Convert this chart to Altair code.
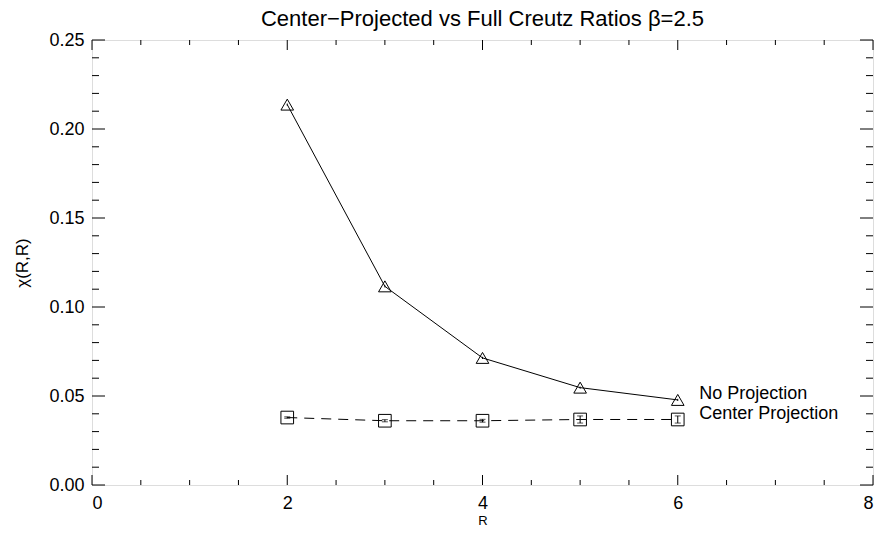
import altair as alt
import pandas as pd

R = [2, 3, 4, 5, 6]
no_proj = [0.2137, 0.1116, 0.0714, 0.0547, 0.0478]
no_proj_err = [0.0006, 0.0006, 0.0006, 0.0006, 0.0006]
center_proj = [0.0379, 0.0361, 0.0361, 0.0368, 0.0368]
center_err = [0.0004, 0.0006, 0.0008, 0.0020, 0.0020]

label_names = ["No Projection", "Center Projection"]
label_x = [6.22, 6.22]
label_y = [0.0510, 0.0400]

x_major = [0, 2, 4, 6, 8]
x_minor = [0.5, 1, 1.5, 2.5, 3, 3.5, 4.5, 5, 5.5, 6.5, 7, 7.5]
y_major = [0.0, 0.05, 0.10, 0.15, 0.20, 0.25]
y_minor = [0.01, 0.02, 0.03, 0.04, 0.06, 0.07, 0.08, 0.09, 0.11, 0.12, 0.13, 0.14,
           0.16, 0.17, 0.18, 0.19, 0.21, 0.22, 0.23, 0.24]

W, H = 781, 445
FONT = "Liberation Sans"
YT = "χ(R,R)"

xs = alt.Scale(domain=[0, 8], nice=False, zero=False)
ys = alt.Scale(domain=[0, 0.25], nice=False, zero=False)

df_no = pd.DataFrame({"R": R, "v": no_proj, "lo": [a - b for a, b in zip(no_proj, no_proj_err)],
                      "hi": [a + b for a, b in zip(no_proj, no_proj_err)]})
df_c = pd.DataFrame({"R": R, "v": center_proj, "lo": [a - b for a, b in zip(center_proj, center_err)],
                     "hi": [a + b for a, b in zip(center_proj, center_err)]})
df_lab = pd.DataFrame({"name": label_names, "x": label_x, "y": label_y})

X = alt.X("R:Q", scale=xs, axis=alt.Axis(title="R", values=x_major, format="d", ticks=False,
                                          domain=False, grid=False, labelFontSize=18, labelPadding=9,
                                          titleFontSize=13, titleFontWeight="normal", titlePadding=2,
                                          labelFont=FONT, titleFont=FONT, labelColor="black", titleColor="black"))
Y = alt.Y("v:Q", scale=ys, title=YT, axis=alt.Axis(title=YT, values=y_major, format=".2f", ticks=False,
                                          domain=False, grid=False, labelFontSize=18, labelPadding=8,
                                          titleFontSize=17, titleFontWeight="normal", titlePadding=17,
                                          labelFont=FONT, titleFont=FONT, labelColor="black", titleColor="black"))

line_no = alt.Chart(df_no).mark_line(color="black", strokeWidth=1).encode(x=X, y=Y)
pts_no = alt.Chart(df_no).mark_point(shape="triangle-up", filled=False, color="black", size=160,
                                     strokeWidth=1, opacity=1).encode(x="R:Q", y=alt.Y("v:Q", title=YT))
err_no = alt.Chart(df_no).mark_rule(color="black").encode(x="R:Q", y=alt.Y("lo:Q", title=YT), y2="hi:Q")

line_c = alt.Chart(df_c).mark_line(color="black", strokeWidth=1, strokeDash=[10, 7]).encode(
    x="R:Q", y=alt.Y("v:Q", title=YT))
pts_c = alt.Chart(df_c).mark_point(shape="square", filled=False, color="black", size=160,
                                   strokeWidth=1, opacity=1).encode(x="R:Q", y=alt.Y("v:Q", title=YT))
err_c = alt.Chart(df_c).mark_errorbar(ticks=alt.MarkConfig(size=6, color="black"), color="black").encode(
    x="R:Q", y=alt.Y("lo:Q", title=YT), y2="hi:Q")

labels = alt.Chart(df_lab).mark_text(align="left", baseline="middle", fontSize=18, font=FONT,
                                      color="black").encode(x="x:Q", y=alt.Y("y:Q", title=YT), text="name:N")

def xticks(vals, length):
    d = pd.DataFrame({"t": vals})
    b = alt.Chart(d).mark_rule(color="black").encode(x=alt.X("t:Q", title="R"), y=alt.value(H), y2=alt.value(H - length))
    t = alt.Chart(d).mark_rule(color="black").encode(x=alt.X("t:Q", title="R"), y=alt.value(0), y2=alt.value(length))
    return b + t

def yticks(vals, length):
    d = pd.DataFrame({"t": vals})
    l = alt.Chart(d).mark_rule(color="black").encode(y=alt.Y("t:Q", title=YT), x=alt.value(0), x2=alt.value(length))
    r = alt.Chart(d).mark_rule(color="black").encode(y=alt.Y("t:Q", title=YT), x=alt.value(W), x2=alt.value(W - length))
    return l + r

chart = alt.layer(
    line_no, line_c, err_no, err_c, pts_no, pts_c, labels,
    xticks(x_major, 10), xticks(x_minor, 5), yticks(y_major, 13), yticks(y_minor, 7)
).properties(
    width=W, height=H,
    title=alt.TitleParams("Center−Projected vs Full Creutz Ratios β=2.5", fontSize=22, font=FONT,
                          fontWeight="normal", color="black", offset=0),
    autosize=alt.AutoSizeParams(type="none"),
    padding={"left": 84, "top": 32, "right": 3, "bottom": 42},
).configure_view(stroke="black", strokeWidth=1).configure(background="white")

chart.save("out.html", embed_options={"renderer": "svg", "actions": False})
